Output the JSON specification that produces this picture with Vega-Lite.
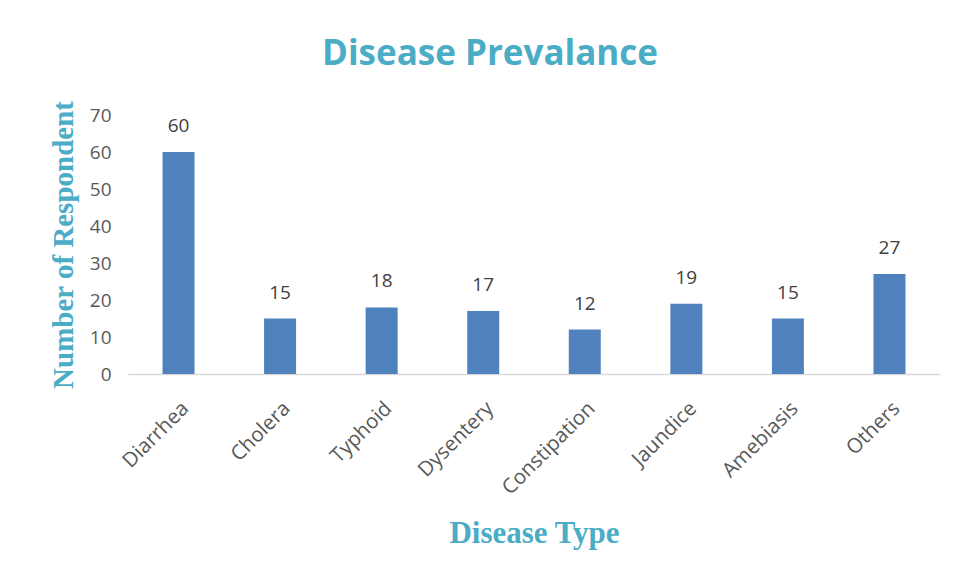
{
  "$schema": "https://vega.github.io/schema/vega-lite/v6.json",
  "width": 812,
  "height": 259,
  "autosize": {"type": "none"},
  "padding": {"left": 128, "top": 115, "right": 18, "bottom": 206},
  "background": "white",
  "config": {"view": {"stroke": null}, "font": "Open Sans"},
  "title": {
    "text": "Disease Prevalance",
    "font": "Open Sans",
    "fontSize": 35,
    "fontWeight": "bold",
    "color": "#4BACC6",
    "anchor": "middle",
    "frame": "group",
    "baseline": "alphabetic",
    "offset": 0,
    "dx": -44
  },
  "data": {
    "values": [
      {"disease": "Diarrhea", "count": 60},
      {"disease": "Cholera", "count": 15},
      {"disease": "Typhoid", "count": 18},
      {"disease": "Dysentery", "count": 17},
      {"disease": "Constipation", "count": 12},
      {"disease": "Jaundice", "count": 19},
      {"disease": "Amebiasis", "count": 15},
      {"disease": "Others", "count": 27}
    ]
  },
  "encoding": {
    "x": {
      "field": "disease",
      "type": "nominal",
      "sort": null,
      "scale": {"paddingInner": 0.685, "paddingOuter": 0.34},
      "axis": {
        "title": "Disease Type",
        "titleFont": "Liberation Serif",
        "titleFontSize": 31,
        "titleFontWeight": "bold",
        "titleColor": "#4BACC6",
        "titleBaseline": "middle",
        "titleY": 159,
        "labelAngle": -45,
        "labelFont": "Open Sans",
        "labelFontSize": 20.5,
        "labelColor": "#595959",
        "labelPadding": 24,
        "ticks": false,
        "domainColor": "#D9D9D9",
        "domainWidth": 1.5
      }
    },
    "y": {
      "field": "count",
      "type": "quantitative",
      "scale": {"domain": [0, 70], "nice": false},
      "axis": {
        "title": "Number of Respondent",
        "titleFont": "Liberation Serif",
        "titleFontSize": 29,
        "titleFontWeight": "bold",
        "titleColor": "#4BACC6",
        "titleBaseline": "middle",
        "titleX": -65,
        "values": [0, 10, 20, 30, 40, 50, 60, 70],
        "labelFont": "Open Sans",
        "labelFontSize": 19,
        "labelColor": "#595959",
        "labelPadding": 17,
        "ticks": false,
        "domain": false,
        "grid": false
      }
    }
  },
  "layer": [
    {"mark": {"type": "bar", "color": "#4F81BD"}},
    {
      "mark": {"type": "text", "baseline": "alphabetic", "dy": -20, "fontSize": 19, "color": "#404040", "font": "Open Sans"},
      "encoding": {"text": {"field": "count", "type": "quantitative"}}
    }
  ]
}
